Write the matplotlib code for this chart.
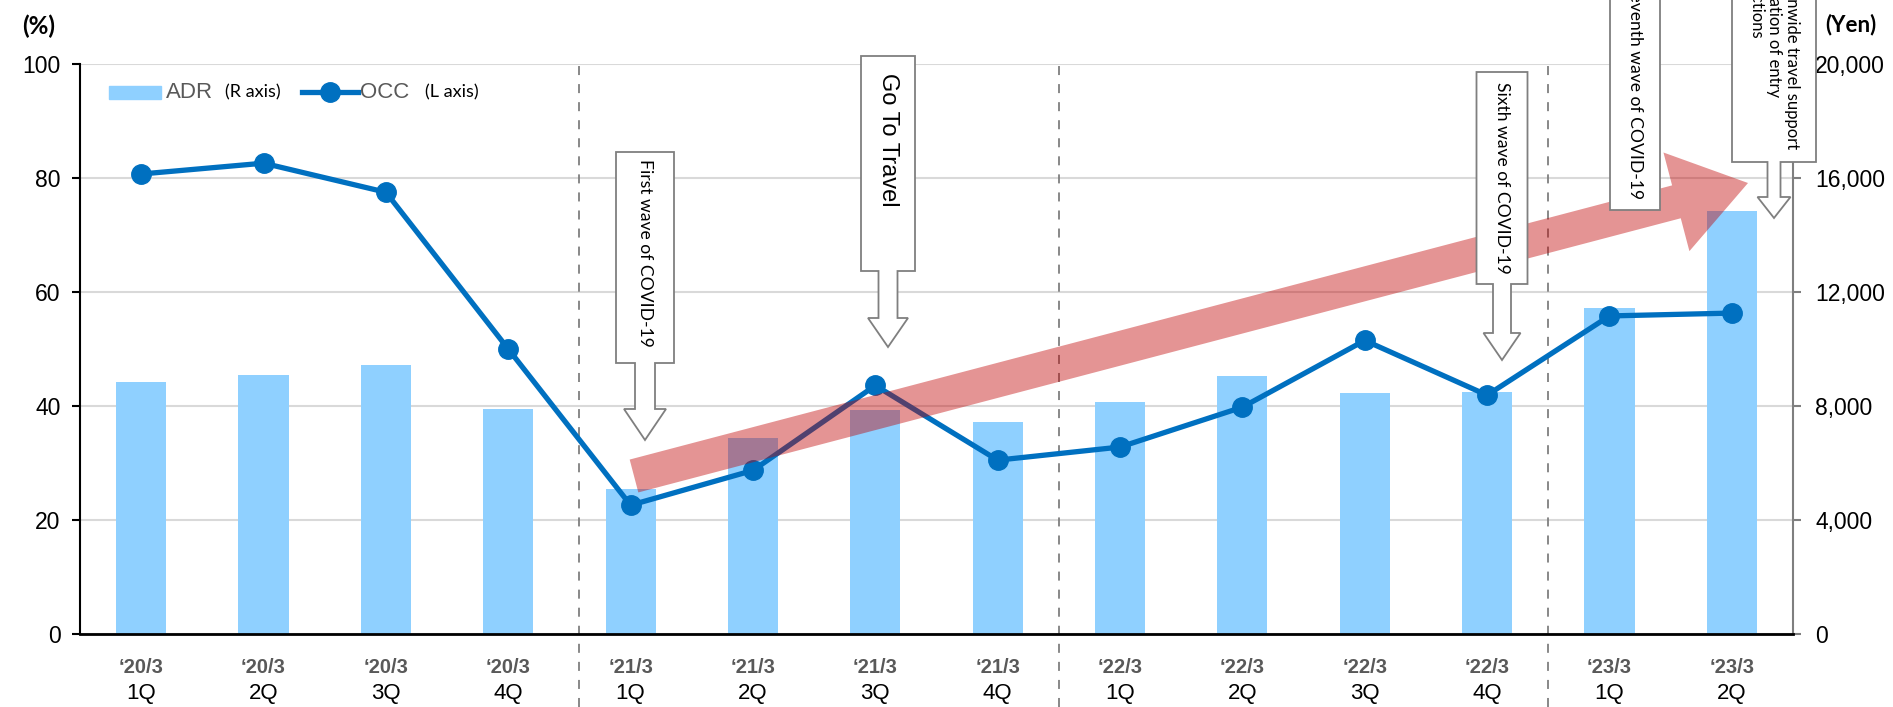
import matplotlib
matplotlib.use("Agg")
import matplotlib.pyplot as plt
from matplotlib.patches import FancyArrow, Polygon, Rectangle
from matplotlib.lines import Line2D
from matplotlib.transforms import IdentityTransform, blended_transform_factory
from matplotlib.ticker import FuncFormatter

W, H = 1893, 707

# quarterly data, fiscal year ending March
periods = ["‘20/3"] * 4 + ["‘21/3"] * 4 + ["‘22/3"] * 4 + ["‘23/3"] * 2
quarters = ["1Q", "2Q", "3Q", "4Q"] * 3 + ["1Q", "2Q"]
occ = [80.7, 82.6, 77.5, 50.0, 22.6, 28.7, 43.6, 30.5, 32.8, 39.8, 51.5, 41.9, 55.8, 56.3]
adr = [8850, 9100, 9450, 7900, 5090, 6870, 7870, 7450, 8150, 9050, 8450, 8500, 11440, 14840]
year_breaks = [3.58, 7.5, 11.5]

BAR = "#8FD0FF"
LINE = "#0070C0"
GRAY = "#7f7f7f"
TXT = "#595959"

fig = plt.figure(figsize=(W / 100, H / 100), dpi=100)
ax = fig.add_axes([80 / W, 1 - 634 / H, (1793 - 80) / W, 570 / H])
ax2 = ax.twinx()
ax.set_zorder(2)
ax2.set_zorder(1)
ax.patch.set_visible(False)

x = list(range(len(occ)))

# bars on the right axis (ADR)
ax2.bar(x, adr, width=0.41, color=BAR, zorder=2)
ax2.set_ylim(0, 20000)
ax2.set_yticks(range(0, 20001, 4000))
ax2.yaxis.set_major_formatter(FuncFormatter(lambda v, p: f"{int(v):,}"))
ax2.yaxis.grid(True, color="#d9d9d9", lw=1.5)
ax2.set_axisbelow(True)
for s in ["left", "top", "bottom"]:
    ax2.spines[s].set_visible(False)
ax2.spines["right"].set_color(GRAY)
ax2.spines["right"].set_linewidth(1.5)
ax2.tick_params(axis="y", colors=GRAY, length=6, width=1.5, pad=10, labelsize=16.5, labelcolor="black")

# line on the left axis (OCC)
ax.plot(x, occ, color=LINE, lw=3.8, marker="o", markersize=14, zorder=3)
ax.set_ylim(0, 100)
ax.set_yticks(range(0, 101, 20))
ax.set_xlim(-0.5, 13.5)
for s in ["right", "top"]:
    ax.spines[s].set_visible(False)
ax.spines["left"].set_linewidth(1.5)
ax.spines["bottom"].set_linewidth(2)
ax.tick_params(axis="y", length=6, width=1.5, pad=8, labelsize=16.5)
ax.set_xticks(x)
ax.set_xticklabels([""] * len(x))
ax.tick_params(axis="x", length=0)
for lab in ax.get_yticklabels() + ax2.get_yticklabels():
    lab.set_family("Liberation Sans")

for xv in year_breaks:
    ax.axvline(xv, ymin=-0.128, ymax=1, clip_on=False, color=GRAY, lw=1.3,
               ls=(0, (5, 5)), zorder=1)

tr = blended_transform_factory(ax.transData, ax.transAxes)
for i in x:
    ax.text(i, -0.058, periods[i], transform=tr, ha="center", va="center",
            fontsize=14.5, fontweight="bold", color=TXT, family="Liberation Sans")
    ax.text(i, -0.105, quarters[i], transform=tr, ha="center", va="center",
            fontsize=16, color="black", family="Liberation Sans")

# axis unit labels
fig.text(39 / W, 1 - 26 / H, "(%)", ha="center", va="center", fontsize=17.5,
         fontweight="bold", family="Lato")
fig.text(1851 / W, 1 - 25 / H, "(Yen)", ha="center", va="center", fontsize=16,
         fontweight="bold", family="Lato")

# legend drawn by hand
fig.add_artist(Rectangle((109 / W, 1 - 99 / H), 52 / W, 13 / H, color=BAR,
                         transform=fig.transFigure))
fig.text(166 / W, 1 - 92 / H, "ADR", va="center", fontsize=16, color=TXT, family="Liberation Sans")
fig.text(225 / W, 1 - 92 / H, "(R axis)", va="center", fontsize=13, family="Lato")
fig.add_artist(Line2D([302 / W, 358 / W], [1 - 92 / H] * 2, color=LINE, lw=3.8,
                      transform=fig.transFigure))
fig.add_artist(Line2D([330 / W], [1 - 92 / H], color=LINE, marker="o", markersize=14,
                      transform=fig.transFigure))
fig.text(360 / W, 1 - 92 / H, "OCC", va="center", fontsize=16, color=TXT, family="Liberation Sans")
fig.text(425 / W, 1 - 92 / H, "(L axis)", va="center", fontsize=13, family="Lato")

# big trend arrow
fig.add_artist(FancyArrow(634, H - 476, 1114, 293, width=34, head_width=102,
                          head_length=74, length_includes_head=True, color="#C00000",
                          alpha=0.42, lw=0, transform=IdentityTransform(), zorder=5))


def callout(cx, top, bot, bw, text, ty, size=12.6, fam="Lato", arrow=None):
    pts = [(cx - bw, top), (cx + bw, top), (cx + bw, bot)]
    if arrow:
        sw, hw, hy, tip = arrow
        pts += [(cx + sw, bot), (cx + sw, hy), (cx + hw, hy), (cx, tip),
                (cx - hw, hy), (cx - sw, hy), (cx - sw, bot)]
    pts += [(cx - bw, bot)]
    pts = [(px, H - py) for px, py in pts]
    fig.add_artist(Polygon(pts, closed=True, facecolor="white", edgecolor=GRAY, lw=1.3,
                           transform=IdentityTransform(), zorder=6))
    fig.text(cx, H - ty, text, rotation=-90, ha="center", va="top", multialignment="left",
             fontsize=size, family=fam, transform=IdentityTransform(), zorder=7,
             linespacing=1.15)


callout(645, 152, 363, 29, "First wave of COVID-19", 159, arrow=(10, 21, 409, 440))
callout(888, 56, 271, 27, "Go To Travel", 73, size=17, fam="Liberation Sans",
        arrow=(9.5, 20, 318, 347))
callout(1502, 72, 284, 25.5, "Sixth wave of COVID-19", 82, arrow=(9, 18.5, 333, 360))
callout(1635, -20, 210, 25, "Seventh wave of COVID-19", -17)
callout(1774, -20, 162, 42,
        "Nationwide travel support\nRelaxation of entry\nrestrictions", -42, size=12,
        arrow=(6.5, 16.5, 197, 218))

fig.savefig("out.png", dpi=100)
